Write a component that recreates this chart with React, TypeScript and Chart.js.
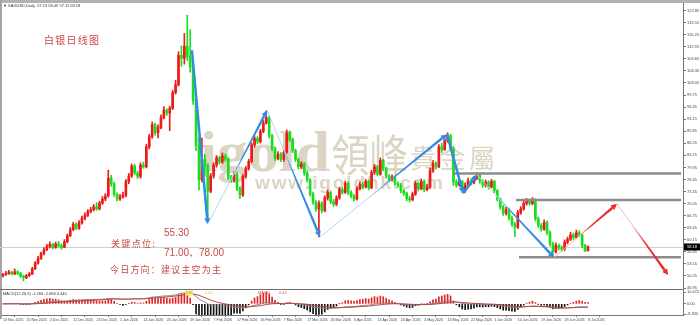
import React, { useEffect, useRef } from 'react';
import { Chart, registerables } from 'chart.js';
Chart.register(...registerables);

const dateLabels = ['13 Nov 2025','25 Nov 2025','4 Dec 2025','11 Dec 2025','23 Dec 2025','1 Jan 2026','14 Jan 2026','20 Jan 2026','29 Jan 2026','7 Feb 2026','17 Feb 2026','26 Feb 2026','7 Mar 2026','17 Mar 2026','26 Mar 2026','6 Apr 2026','13 Apr 2026','24 Apr 2026','4 May 2026','13 May 2026','22 May 2026','1 Jun 2026','10 Jun 2026','19 Jun 2026','29 Jun 2026','8 Jul 2026'];
const labelEvery = 8;
const firstOpen = 50.3;
const closes = [
50.6,50.9,51.3,50.8,51.4,51.0,50.2,49.8,50.3,50.8,
52.2,53.8,55.0,56.4,57.5,58.3,58.9,58.0,59.0,58.5,
58.1,59.6,61.3,62.9,64.4,63.3,64.8,66.1,66.8,67.9,
68.4,69.2,68.6,70.2,71.3,72.2,77.0,75.4,72.6,71.3,
71.9,72.3,76.1,77.6,80.3,78.4,77.5,80.6,80.1,85.6,
88.4,91.6,89.4,90.9,93.6,95.6,94.8,96.1,100.4,102.6,
110.6,109.8,113.1,110.3,107.4,98.2,86.0,76.6,82.1,80.4,
73.4,77.6,80.6,82.6,81.4,83.1,82.2,77.1,76.5,78.1,
74.2,72.4,77.5,79.6,81.6,86.1,87.9,87.0,89.8,92.1,
93.6,88.6,85.1,82.4,83.6,82.1,84.1,89.4,87.6,84.6,
82.1,80.1,80.9,78.4,76.5,72.7,70.4,68.6,70.1,68.1,
71.6,73.1,70.6,69.9,71.6,73.9,73.1,75.6,73.1,72.1,
71.3,74.1,75.3,74.6,76.1,74.4,78.6,80.1,78.1,81.9,
79.6,77.6,76.6,77.3,75.6,75.1,73.6,72.9,71.4,71.1,
72.6,75.6,74.1,76.1,73.9,74.6,79.1,81.1,80.1,85.6,
84.8,87.3,88.6,85.1,75.9,75.1,76.1,73.6,75.1,76.3,
75.7,77.1,77.9,76.2,75.1,75.9,74.6,76.1,73.6,71.3,
69.1,67.4,68.4,66.1,64.4,63.6,67.6,68.6,70.1,70.9,
70.1,71.1,65.9,64.1,63.1,64.9,62.1,59.0,56.9,58.6,
58.0,57.6,59.5,60.3,61.5,60.8,62.1,61.5,58.6,57.13,
58.18];
const highs = [
51.0,51.5,51.8,51.5,52.2,51.7,51.2,50.5,50.7,51.2,
52.6,54.2,55.6,56.8,58.0,58.9,59.6,59.2,59.5,59.7,
59.0,60.2,61.7,63.5,64.9,64.8,65.4,66.6,67.5,68.4,
69.0,69.8,70.3,70.7,72.0,72.8,79.2,77.8,75.9,73.0,
72.6,73.2,76.6,78.3,80.9,80.8,78.9,81.2,81.4,86.3,
89.0,92.4,92.1,91.6,94.3,96.6,96.0,96.7,101.0,103.8,
111.6,113.2,116.6,121.6,117.6,109.0,98.6,88.2,88.0,83.5,
81.0,78.3,81.2,83.2,83.0,83.9,83.6,82.6,77.8,78.7,
78.6,74.6,78.0,80.2,82.2,86.6,88.6,88.4,90.4,92.8,
95.4,94.0,89.0,85.6,84.3,84.0,84.7,90.2,89.9,88.0,
85.0,82.5,81.5,81.3,78.9,76.9,73.2,70.9,70.8,70.6,
72.2,73.8,73.5,71.2,72.2,74.5,74.4,76.2,76.0,73.6,
72.6,74.7,76.0,75.8,76.7,76.5,79.2,80.8,80.5,82.5,
82.2,80.0,78.0,77.9,77.6,76.0,75.6,74.0,73.2,72.0,
73.2,76.2,76.0,76.8,76.5,75.3,79.8,81.8,81.5,86.2,
86.6,88.0,89.4,89.0,85.6,76.6,76.8,76.4,75.7,77.0,
76.8,77.6,78.6,78.2,76.6,76.5,76.3,76.7,76.4,73.9,
71.6,69.6,69.0,68.8,66.6,64.9,68.2,69.2,70.7,71.5,
71.3,71.7,71.4,66.4,64.6,65.6,65.3,62.6,59.5,59.3,
59.0,58.5,60.1,60.9,62.2,62.0,62.8,62.6,61.9,58.9,
58.49];
const lows = [
50.0,50.4,50.7,50.5,50.6,50.6,49.8,48.9,49.5,50.1,
50.6,52.0,53.5,54.8,56.0,57.2,57.9,57.6,57.8,58.1,
57.6,58.0,59.3,61.0,62.6,62.9,63.0,64.4,65.6,66.5,
67.5,68.0,68.2,68.3,69.8,70.8,71.8,74.8,72.0,70.8,
70.9,71.5,71.9,75.5,77.2,78.0,76.9,77.0,79.7,79.8,
85.0,87.9,88.8,88.0,90.5,93.2,94.2,90.0,95.8,100.0,
102.2,107.6,108.2,109.2,106.0,97.2,84.5,73.8,76.0,77.5,
64.8,73.0,77.0,80.0,80.8,81.0,81.6,76.6,75.9,76.0,
73.6,71.4,72.0,77.0,79.2,81.2,85.5,86.4,86.6,89.4,
91.8,88.0,84.5,81.8,82.0,81.5,81.6,83.8,87.0,84.0,
81.5,79.5,79.6,77.8,75.9,72.1,69.8,67.9,60.9,67.5,
67.8,71.0,70.0,69.3,69.5,71.2,72.6,72.8,72.5,71.6,
70.7,71.0,73.8,74.1,74.3,73.8,74.1,78.0,77.6,77.8,
79.0,77.0,76.0,76.2,75.0,74.5,73.0,72.3,70.8,70.5,
70.8,72.3,73.5,73.8,73.3,73.5,74.2,78.6,79.5,79.9,
84.0,84.6,86.8,84.5,75.0,74.5,74.8,73.0,73.1,74.6,
75.1,75.4,76.6,75.6,74.5,74.6,74.0,74.3,73.0,70.7,
68.5,66.8,66.9,65.5,63.8,61.0,63.2,67.1,68.2,69.6,
69.6,69.7,65.3,63.5,62.5,62.7,61.5,58.4,55.3,56.5,
57.4,57.0,57.2,59.0,59.9,60.2,60.5,61.0,58.0,56.9,
57.11];
const opens = closes.map((_, i) => (i === 0 ? firstOpen : closes[i - 1]));

const priceTicks = [46.95,50.25,53.55,56.85,60.15,63.45,66.75,70.05,73.35,76.65,79.95,83.25,86.55,89.85,93.15,96.45,99.75,103.05,106.35,109.65,112.95,116.25,119.55,122.85];
const macdTicks = [10.472, 0, -8.922];
const lastPrice = 58.18;
const levelValues = [78.3, 71.0, 55.35];
const levelStartIdx = [153.8, 175.4, 176.4];
const zigzagIdx = [64.6, 70, 90.3, 108.4, 151.8, 157.3, 162, 188.4];
const zigzagVal = [112, 64.4, 95.6, 60.9, 89.0, 72.9, 77.9, 55.3];
const projIdx = [188.4, 209.9, 227.4];
const projVal = [55.3, 70.0, 50.5];

// MACD derived from closes
function ema(arr: number[], n: number) {
  const k = 2 / (n + 1);
  const out: number[] = [];
  arr.forEach((v, i) => out.push(i === 0 ? v : v * k + out[i - 1] * (1 - k)));
  return out;
}
const e12 = ema(closes, 12);
const e26 = ema(closes, 26);
const dif = e12.map((v, i) => v - e26[i]);
const dea = ema(dif, 9);
const histScale = 5.5;
const hist = dif.map((v, i) => histScale * (v - dea[i]));

const X_MIN = -1.026;
const X_MAX = 232.47;
const BULL = '#ee1a1a';
const BEAR = '#1ade1a';
const TXT_RED = '#c94a45';

function spacedText(ctx: CanvasRenderingContext2D, text: string, x: number, yMid: number, font: string, color: string, targetW: number) {
  ctx.font = font;
  ctx.fillStyle = color;
  ctx.textBaseline = 'middle';
  ctx.textAlign = 'left';
  const chars = [...text];
  const w = chars.reduce((s, c) => s + ctx.measureText(c).width, 0);
  const sp = chars.length > 1 ? (targetW - w) / (chars.length - 1) : 0;
  let cx = x;
  for (const ch of chars) {
    ctx.fillText(ch, cx, yMid);
    cx += ctx.measureText(ch).width + sp;
  }
}
function fitText(ctx: CanvasRenderingContext2D, text: string, x: number, y: number, font: string, color: string, targetW: number, baseline: CanvasTextBaseline) {
  ctx.font = font;
  ctx.fillStyle = color;
  ctx.textBaseline = baseline;
  ctx.textAlign = 'left';
  const w = ctx.measureText(text).width;
  ctx.save();
  ctx.translate(x, y);
  ctx.scale(targetW / w, 1);
  ctx.fillText(text, 0, 0);
  ctx.restore();
}
function drawSeg(ctx: CanvasRenderingContext2D, x0: number, y0: number, x1: number, y1: number, f: number, full: string, light: string) {
  const dx = x1 - x0, dy = y1 - y0, len = Math.hypot(dx, dy);
  const ux = dx / len, uy = dy / len, nx = -uy, ny = ux;
  const hl = 6, hw = 3;
  const bx = x1 - ux * hl, by = y1 - uy * hl;
  ctx.strokeStyle = light;
  ctx.lineWidth = 1;
  ctx.beginPath();
  ctx.moveTo(x0, y0);
  ctx.lineTo(bx, by);
  ctx.stroke();
  const sx = x0 + (bx - x0) * f, sy = y0 + (by - y0) * f;
  const w0 = f > 0 ? 0.8 : 2.4, w1 = 2.6;
  const g = ctx.createLinearGradient(sx, sy, bx, by);
  g.addColorStop(0, f > 0 ? light : full);
  g.addColorStop(0.35, full);
  g.addColorStop(1, full);
  ctx.fillStyle = g;
  ctx.beginPath();
  ctx.moveTo(sx + nx * w0 / 2, sy + ny * w0 / 2);
  ctx.lineTo(bx + nx * w1 / 2, by + ny * w1 / 2);
  ctx.lineTo(bx - nx * w1 / 2, by - ny * w1 / 2);
  ctx.lineTo(sx - nx * w0 / 2, sy - ny * w0 / 2);
  ctx.closePath();
  ctx.fill();
  ctx.fillStyle = full;
  ctx.beginPath();
  ctx.moveTo(x1, y1);
  ctx.lineTo(bx + nx * hw, by + ny * hw);
  ctx.lineTo(bx - nx * hw, by - ny * hw);
  ctx.closePath();
  ctx.fill();
}

const zigThin = [0, 0.42, 0.3, 0.4, 0, 0, 0.26];
const projThin = [0.45, 0.35];

const mainPlugin = {
  id: 'mainDeco',
  beforeDraw(chart: any) {
    const ctx = chart.ctx as CanvasRenderingContext2D;
    ctx.save();
    ctx.fillStyle = '#b2b2b2';
    ctx.fillRect(0, 0, 700, 3);
    ctx.fillStyle = '#a4a4a4';
    ctx.fillRect(0, 0, 2, chart.chartArea.bottom);
    ctx.restore();
  },
  beforeDatasetsDraw(chart: any) {
    const ctx = chart.ctx as CanvasRenderingContext2D;
    const { chartArea } = chart;
    const ys = chart.scales.y;
    ctx.save();
    const wm = '#ddd5c3';
    fitText(ctx, 'igold', 200, 171, "bold 56px 'Liberation Serif'", wm, 130, 'alphabetic');
    fitText(ctx, '領峰', 331, 155, "44px 'Noto Sans CJK TC'", wm, 77, 'middle');
    spacedText(ctx, '貴金屬', 410, 158, "26px 'Noto Sans CJK TC'", wm, 85);
    spacedText(ctx, 'www.igoldhk.com', 255, 184, "bold 19px 'Liberation Sans'", wm, 188);
    const py = Math.round(ys.getPixelForValue(lastPrice)) + 0.5;
    ctx.strokeStyle = '#cfcfcf';
    ctx.lineWidth = 1;
    ctx.beginPath();
    ctx.moveTo(chartArea.left, py);
    ctx.lineTo(chartArea.right, py);
    ctx.stroke();
    ctx.restore();
  },
  afterDatasetsDraw(chart: any) {
    const ctx = chart.ctx as CanvasRenderingContext2D;
    const { chartArea } = chart;
    const xs = chart.scales.x, ys = chart.scales.y;
    ctx.save();
    ctx.strokeStyle = '#8c8c8c';
    ctx.lineWidth = 2.5;
    levelValues.forEach((v, k) => {
      const y = ys.getPixelForValue(v);
      ctx.beginPath();
      ctx.moveTo(xs.getPixelForValue(levelStartIdx[k]), y);
      ctx.lineTo(chartArea.right - 2, y);
      ctx.stroke();
    });
    for (let k = 0; k < zigzagIdx.length - 1; k++) {
      drawSeg(ctx, xs.getPixelForValue(zigzagIdx[k]), ys.getPixelForValue(zigzagVal[k]), xs.getPixelForValue(zigzagIdx[k + 1]), ys.getPixelForValue(zigzagVal[k + 1]), zigThin[k], '#2f8be3', '#b5d7f6');
    }
    for (let k = 0; k < projIdx.length - 1; k++) {
      drawSeg(ctx, xs.getPixelForValue(projIdx[k]), ys.getPixelForValue(projVal[k]), xs.getPixelForValue(projIdx[k + 1]), ys.getPixelForValue(projVal[k + 1]), projThin[k], '#ec2a2a', '#f6b9b9');
    }
    ctx.restore();
  },
  afterDraw(chart: any) {
    const ctx = chart.ctx as CanvasRenderingContext2D;
    const ys = chart.scales.y;
    ctx.save();
    spacedText(ctx, '白银日线图', 44, 40, "10px 'Noto Sans CJK SC'", TXT_RED, 55);
    spacedText(ctx, '55.30', 164, 233, "10px 'Liberation Sans'", TXT_RED, 25);
    spacedText(ctx, '关键点位:', 111, 244, "9px 'Noto Sans CJK SC'", TXT_RED, 44);
    spacedText(ctx, '71.00、78.00', 164, 253, "10px 'Liberation Sans', 'Noto Sans CJK SC'", TXT_RED, 60);
    spacedText(ctx, '今日方向：建议主空为主', 110, 270, "9px 'Noto Sans CJK SC'", TXT_RED, 111);
    ctx.font = "4px 'Liberation Sans'";
    ctx.fillStyle = '#333';
    ctx.textBaseline = 'middle';
    ctx.fillText('▼ XAGUSD,Daily  57.13 58.49 57.11 58.18', 3, 5.5);
    const py = ys.getPixelForValue(lastPrice);
    ctx.fillStyle = '#000';
    ctx.fillRect(684, py - 3.5, 16, 7);
    ctx.fillStyle = '#fff';
    ctx.font = "4px 'Liberation Sans'";
    ctx.fillText(lastPrice.toFixed(2), 687, py);
    ctx.restore();
  },
};

const macdPlugin = {
  id: 'macdDeco',
  afterDraw(chart: any) {
    const ctx = chart.ctx as CanvasRenderingContext2D;
    ctx.save();
    ctx.fillStyle = '#a4a4a4';
    ctx.fillRect(0, 0, 2, 30);
    ctx.fillStyle = '#6e6e6e';
    ctx.fillRect(0, 0, 684, 1);
    ctx.font = "4px 'Liberation Sans'";
    ctx.textBaseline = 'middle';
    ctx.fillStyle = '#333';
    ctx.fillText('MACD(12,26,9) -1.584 -2.084 0.440', 3, 4.5);
    ctx.fillStyle = '#f3e27a';
    ctx.fillRect(185, 1.5, 8, 5);
    ctx.fillStyle = '#c8b040';
    ctx.fillText('DIF:', 186, 4);
    ctx.fillStyle = '#e0cf60';
    ctx.fillText('2.00', 205, 4);
    ctx.fillStyle = '#d05050';
    ctx.fillText('MACD:', 258, 4);
    ctx.fillText('0.44', 279, 4);
    ctx.restore();
  },
};

export default function App() {
  const mainRef = useRef<HTMLCanvasElement>(null);
  const macdRef = useRef<HTMLCanvasElement>(null);
  useEffect(() => {
    const bodyColors = closes.map((c, i) => (c >= opens[i] ? BULL : BEAR));
    const tickFont = { size: 4, family: "'Liberation Sans'" };
    const c1 = new Chart(mainRef.current as HTMLCanvasElement, {
      type: 'bar',
      data: {
        datasets: [
          {
            type: 'bar',
            data: closes.map((_, i) => ({ x: i, y: [lows[i], highs[i]] })) as any,
            backgroundColor: bodyColors,
            barThickness: 1,
            grouped: false,
            order: 2,
          } as any,
          {
            type: 'bar',
            data: closes.map((c, i) => ({ x: i, y: [opens[i], c] })) as any,
            backgroundColor: bodyColors,
            barThickness: 2,
            minBarLength: 1,
            grouped: false,
            order: 1,
          } as any,
        ],
      },
      options: {
        responsive: false,
        animation: false,
        events: [],
        layout: { padding: { top: 3, bottom: 6, left: 0, right: 0 } },
        plugins: { legend: { display: false }, tooltip: { enabled: false } },
        scales: {
          x: { type: 'linear', display: false, min: X_MIN, max: X_MAX, offset: false },
          y: {
            type: 'linear',
            position: 'right',
            min: 46.68,
            max: 124.93,
            afterFit: (s: any) => { s.width = 17; s.paddingTop = 0; s.paddingBottom = 0; },
            afterBuildTicks: (s: any) => { s.ticks = priceTicks.map((v) => ({ value: v })); },
            ticks: { callback: (v: any) => Number(v).toFixed(2), font: tickFont, color: '#444', padding: 1, autoSkip: false },
            grid: { drawOnChartArea: false, drawTicks: true, tickLength: 3, color: '#777' },
            border: { display: true, color: '#777' },
          },
        },
      } as any,
      plugins: [mainPlugin],
    });
    const c2 = new Chart(macdRef.current as HTMLCanvasElement, {
      type: 'bar',
      data: {
        datasets: [
          {
            type: 'bar',
            data: hist.map((v, i) => ({ x: i, y: v })) as any,
            backgroundColor: hist.map((v) => (v >= 0 ? '#e02424' : '#111')),
            barThickness: 1,
            grouped: false,
            order: 3,
          } as any,
          {
            type: 'line',
            data: dif.map((v, i) => ({ x: i, y: v })) as any,
            borderColor: '#8a8a8a',
            borderWidth: 1,
            pointRadius: 0,
            order: 2,
          } as any,
          {
            type: 'line',
            data: dea.map((v, i) => ({ x: i, y: v })) as any,
            borderColor: '#b84444',
            borderWidth: 1,
            pointRadius: 0,
            order: 1,
          } as any,
        ],
      },
      options: {
        responsive: false,
        animation: false,
        events: [],
        layout: { padding: { top: 1, bottom: 0, left: 0, right: 0 } },
        plugins: { legend: { display: false }, tooltip: { enabled: false } },
        scales: {
          x: {
            type: 'linear',
            min: X_MIN,
            max: X_MAX,
            offset: false,
            afterFit: (s: any) => { s.height = 10; s.paddingLeft = 0; s.paddingRight = 0; },
            afterBuildTicks: (s: any) => { s.ticks = dateLabels.map((_, k) => ({ value: k * labelEvery })); },
            ticks: { callback: (_v: any, i: number) => dateLabels[i], font: { size: 3.6, family: "'Liberation Sans'" }, color: '#444', padding: 1, align: 'start', maxRotation: 0, autoSkip: false },
            grid: { drawOnChartArea: false, drawTicks: true, tickLength: 2, color: '#777' },
            border: { display: true, color: '#777' },
          },
          y: {
            type: 'linear',
            position: 'right',
            min: -9.8,
            max: 12.235,
            afterFit: (s: any) => { s.width = 17; s.paddingTop = 0; s.paddingBottom = 0; },
            afterBuildTicks: (s: any) => { s.ticks = macdTicks.map((v) => ({ value: v })); },
            ticks: { callback: (v: any) => (Number(v) === 0 ? '0.00' : Number(v).toFixed(3)), font: tickFont, color: '#444', padding: 1, autoSkip: false },
            grid: { drawOnChartArea: false, drawTicks: true, tickLength: 3, color: '#777' },
            border: { display: true, color: '#777' },
          },
        },
      } as any,
      plugins: [macdPlugin],
    });
    return () => { c1.destroy(); c2.destroy(); };
  }, []);
  return (
    <div style={{ position: 'fixed', left: 0, top: 0, width: 700, height: 325, background: '#fff' }}>
      <canvas ref={macdRef} width={700} height={36} style={{ position: 'absolute', left: 0, top: 289, width: 700, height: 36 }} />
      <canvas ref={mainRef} width={700} height={295} style={{ position: 'absolute', left: 0, top: 0, width: 700, height: 295 }} />
    </div>
  );
}
